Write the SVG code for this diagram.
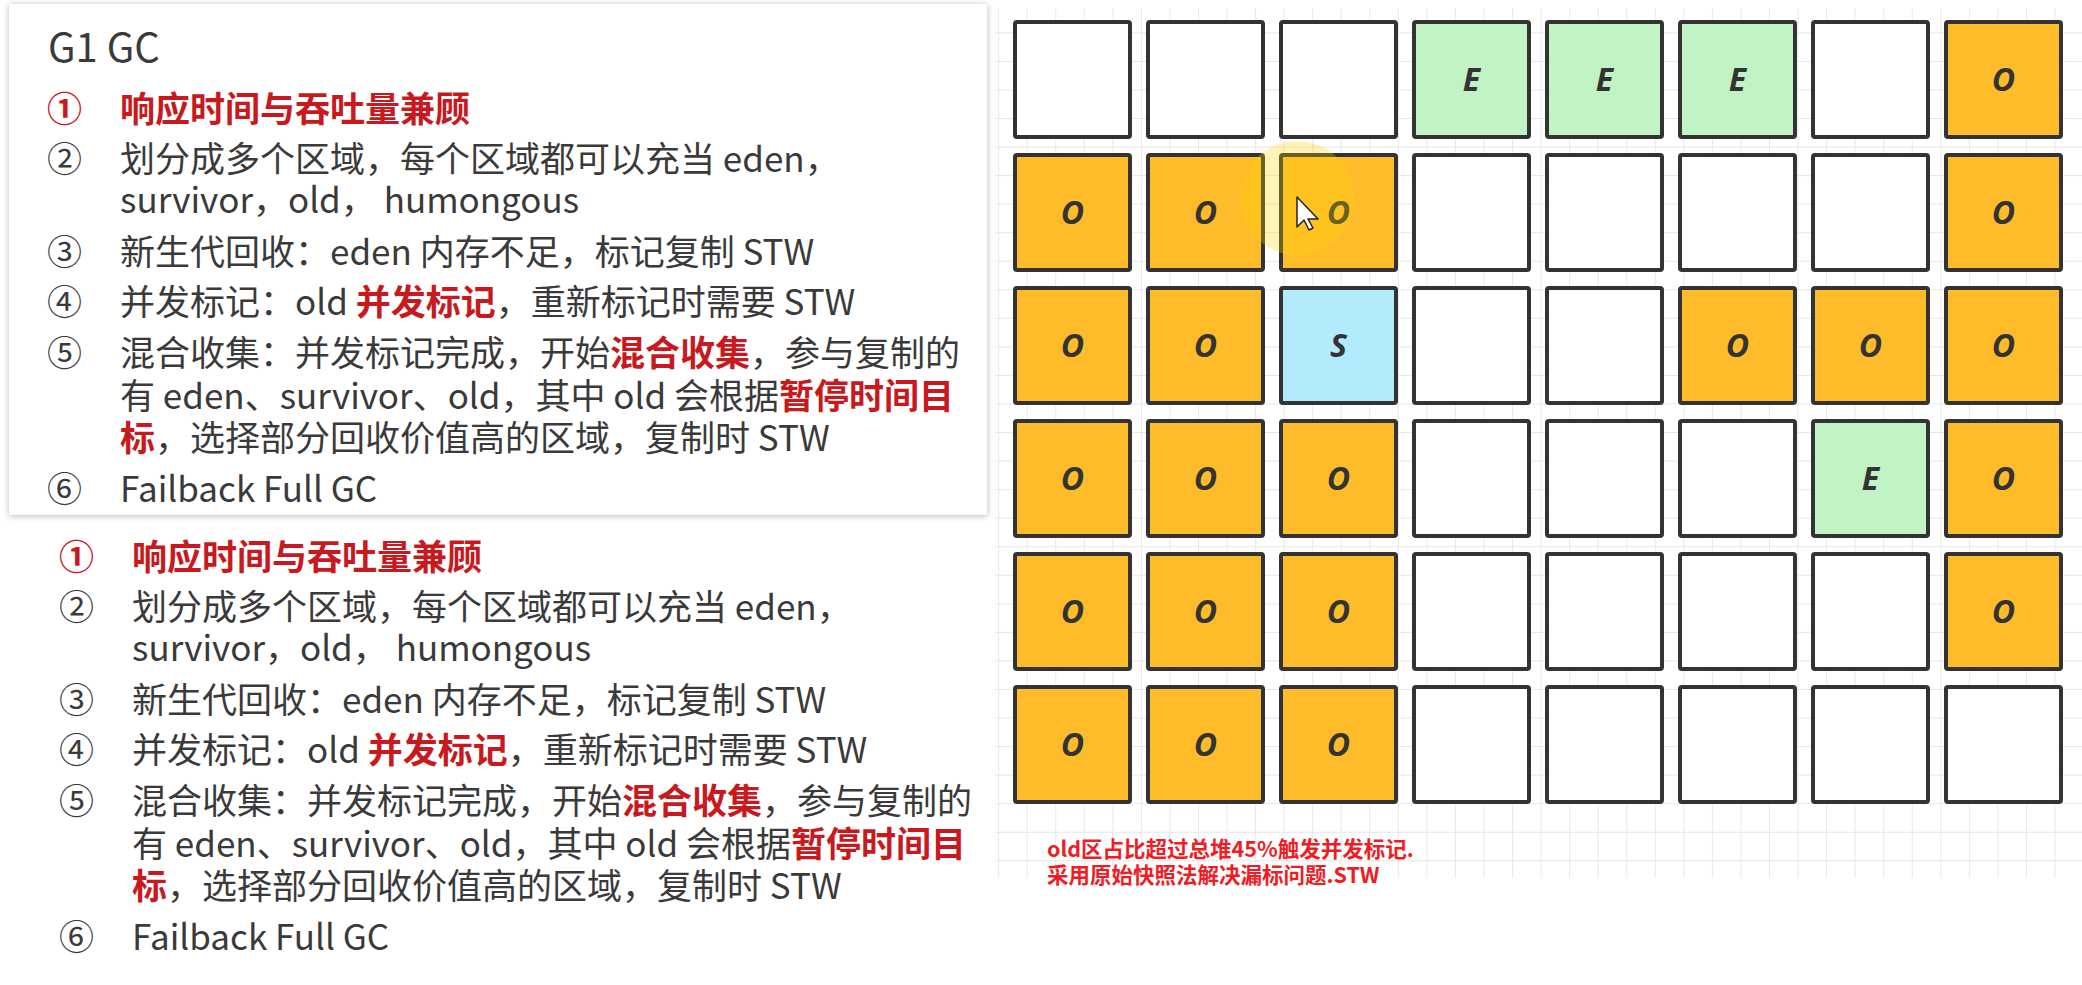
<svg xmlns="http://www.w3.org/2000/svg" width="2082" height="985" viewBox="0 0 2082 985">
<defs>
<style>
.t{font-family:"Noto Sans CJK SC","Noto Sans",sans-serif;font-size:35px;fill:#3a3a3a}
.ttl{font-family:"Noto Sans CJK SC","Noto Sans",sans-serif;font-size:40px;fill:#3a3a3a}
.r{fill:#c8191e;font-weight:bold}
.note{font-family:"Noto Sans CJK SC","Noto Sans",sans-serif;font-size:21.5px;font-weight:bold;fill:#ee1d25}
.cell{stroke:#333;stroke-width:4}
.W{fill:#ffffff}.O{fill:#febc2b}.E{fill:#c1f3c5}.S{fill:#b2ebfb}
.lbl{font-family:"Open Sans","Noto Sans",sans-serif;font-size:32px;font-weight:bold;font-style:italic;fill:#333;text-anchor:middle}
</style>
<filter id="shadow" x="-5%" y="-5%" width="110%" height="110%">
<feDropShadow dx="0" dy="1" stdDeviation="3" flood-color="#000" flood-opacity="0.28"/>
</filter>
<pattern id="grid" x="1026.7" y="118" width="28.55" height="28.55" patternUnits="userSpaceOnUse">
<path d="M0 0H28.55M0 0V28.55" fill="none" stroke="#e6e6e6" stroke-width="1.8"/>
</pattern>
</defs>
<rect width="2082" height="985" fill="#ffffff"/>
<rect x="995" y="8" width="1087" height="870" fill="url(#grid)"/>

<g id="card">
<rect x="9" y="4" width="978" height="511" fill="#ffffff" filter="url(#shadow)"/>
<text class="ttl" x="48" y="62">G1 GC</text>
<text class="t" x="47" y="122"><tspan class="r">①</tspan><tspan class="r" x="120">响应时间与吞吐量兼顾</tspan></text>
<text class="t" x="47" y="172">②<tspan x="120">划分成多个区域，每个区域都可以充当 eden，</tspan></text>
<text class="t" x="120" y="213">survivor，old， humongous</text>
<text class="t" x="47" y="265">③<tspan x="120">新生代回收：eden 内存不足，标记复制 STW</tspan></text>
<text class="t" x="47" y="315">④<tspan x="120">并发标记：old </tspan><tspan class="r">并发标记</tspan><tspan>，重新标记时需要 STW</tspan></text>
<text class="t" x="47" y="366">⑤<tspan x="120">混合收集：并发标记完成，开始</tspan><tspan class="r">混合收集</tspan><tspan>，参与复制的</tspan></text>
<text class="t" x="120" y="409">有 eden、survivor、old，其中 old 会根据<tspan class="r">暂停时间目</tspan></text>
<text class="t" x="120" y="451"><tspan class="r">标</tspan>，选择部分回收价值高的区域，复制时 STW</text>
<text class="t" x="47" y="502">⑥<tspan x="120">Failback Full GC</tspan></text>
</g>

<g id="notes-copy" transform="translate(12,448)">
<text class="t" x="47" y="122"><tspan class="r">①</tspan><tspan class="r" x="120">响应时间与吞吐量兼顾</tspan></text>
<text class="t" x="47" y="172">②<tspan x="120">划分成多个区域，每个区域都可以充当 eden，</tspan></text>
<text class="t" x="120" y="213">survivor，old， humongous</text>
<text class="t" x="47" y="265">③<tspan x="120">新生代回收：eden 内存不足，标记复制 STW</tspan></text>
<text class="t" x="47" y="315">④<tspan x="120">并发标记：old </tspan><tspan class="r">并发标记</tspan><tspan>，重新标记时需要 STW</tspan></text>
<text class="t" x="47" y="366">⑤<tspan x="120">混合收集：并发标记完成，开始</tspan><tspan class="r">混合收集</tspan><tspan>，参与复制的</tspan></text>
<text class="t" x="120" y="409">有 eden、survivor、old，其中 old 会根据<tspan class="r">暂停时间目</tspan></text>
<text class="t" x="120" y="451"><tspan class="r">标</tspan>，选择部分回收价值高的区域，复制时 STW</text>
<text class="t" x="47" y="502">⑥<tspan x="120">Failback Full GC</tspan></text>
</g>

<g id="regions">
<g id="r1">
<rect class="cell W" x="1015" y="22" width="115" height="115" rx="2"/>
<rect class="cell W" x="1148" y="22" width="115" height="115" rx="2"/>
<rect class="cell W" x="1281" y="22" width="115" height="115" rx="2"/>
<rect class="cell E" x="1414" y="22" width="115" height="115" rx="2"/><text class="lbl" x="1471.5" y="91">E</text>
<rect class="cell E" x="1547" y="22" width="115" height="115" rx="2"/><text class="lbl" x="1604.5" y="91">E</text>
<rect class="cell E" x="1680" y="22" width="115" height="115" rx="2"/><text class="lbl" x="1737.5" y="91">E</text>
<rect class="cell W" x="1813" y="22" width="115" height="115" rx="2"/>
<rect class="cell O" x="1946" y="22" width="115" height="115" rx="2"/><text class="lbl" x="2003.5" y="91">O</text>
</g>
<g id="r2">
<rect class="cell O" x="1015" y="155" width="115" height="115" rx="2"/><text class="lbl" x="1072.5" y="224">O</text>
<rect class="cell O" x="1148" y="155" width="115" height="115" rx="2"/><text class="lbl" x="1205.5" y="224">O</text>
<rect class="cell O" x="1281" y="155" width="115" height="115" rx="2"/><text class="lbl" x="1338.5" y="224">O</text>
<rect class="cell W" x="1414" y="155" width="115" height="115" rx="2"/>
<rect class="cell W" x="1547" y="155" width="115" height="115" rx="2"/>
<rect class="cell W" x="1680" y="155" width="115" height="115" rx="2"/>
<rect class="cell W" x="1813" y="155" width="115" height="115" rx="2"/>
<rect class="cell O" x="1946" y="155" width="115" height="115" rx="2"/><text class="lbl" x="2003.5" y="224">O</text>
</g>
<g id="r3">
<rect class="cell O" x="1015" y="288" width="115" height="115" rx="2"/><text class="lbl" x="1072.5" y="357">O</text>
<rect class="cell O" x="1148" y="288" width="115" height="115" rx="2"/><text class="lbl" x="1205.5" y="357">O</text>
<rect class="cell S" x="1281" y="288" width="115" height="115" rx="2"/><text class="lbl" x="1338.5" y="357">S</text>
<rect class="cell W" x="1414" y="288" width="115" height="115" rx="2"/>
<rect class="cell W" x="1547" y="288" width="115" height="115" rx="2"/>
<rect class="cell O" x="1680" y="288" width="115" height="115" rx="2"/><text class="lbl" x="1737.5" y="357">O</text>
<rect class="cell O" x="1813" y="288" width="115" height="115" rx="2"/><text class="lbl" x="1870.5" y="357">O</text>
<rect class="cell O" x="1946" y="288" width="115" height="115" rx="2"/><text class="lbl" x="2003.5" y="357">O</text>
</g>
<g id="r4">
<rect class="cell O" x="1015" y="421" width="115" height="115" rx="2"/><text class="lbl" x="1072.5" y="490">O</text>
<rect class="cell O" x="1148" y="421" width="115" height="115" rx="2"/><text class="lbl" x="1205.5" y="490">O</text>
<rect class="cell O" x="1281" y="421" width="115" height="115" rx="2"/><text class="lbl" x="1338.5" y="490">O</text>
<rect class="cell W" x="1414" y="421" width="115" height="115" rx="2"/>
<rect class="cell W" x="1547" y="421" width="115" height="115" rx="2"/>
<rect class="cell W" x="1680" y="421" width="115" height="115" rx="2"/>
<rect class="cell E" x="1813" y="421" width="115" height="115" rx="2"/><text class="lbl" x="1870.5" y="490">E</text>
<rect class="cell O" x="1946" y="421" width="115" height="115" rx="2"/><text class="lbl" x="2003.5" y="490">O</text>
</g>
<g id="r5">
<rect class="cell O" x="1015" y="554" width="115" height="115" rx="2"/><text class="lbl" x="1072.5" y="623">O</text>
<rect class="cell O" x="1148" y="554" width="115" height="115" rx="2"/><text class="lbl" x="1205.5" y="623">O</text>
<rect class="cell O" x="1281" y="554" width="115" height="115" rx="2"/><text class="lbl" x="1338.5" y="623">O</text>
<rect class="cell W" x="1414" y="554" width="115" height="115" rx="2"/>
<rect class="cell W" x="1547" y="554" width="115" height="115" rx="2"/>
<rect class="cell W" x="1680" y="554" width="115" height="115" rx="2"/>
<rect class="cell W" x="1813" y="554" width="115" height="115" rx="2"/>
<rect class="cell O" x="1946" y="554" width="115" height="115" rx="2"/><text class="lbl" x="2003.5" y="623">O</text>
</g>
<g id="r6">
<rect class="cell O" x="1015" y="687" width="115" height="115" rx="2"/><text class="lbl" x="1072.5" y="756">O</text>
<rect class="cell O" x="1148" y="687" width="115" height="115" rx="2"/><text class="lbl" x="1205.5" y="756">O</text>
<rect class="cell O" x="1281" y="687" width="115" height="115" rx="2"/><text class="lbl" x="1338.5" y="756">O</text>
<rect class="cell W" x="1414" y="687" width="115" height="115" rx="2"/>
<rect class="cell W" x="1547" y="687" width="115" height="115" rx="2"/>
<rect class="cell W" x="1680" y="687" width="115" height="115" rx="2"/>
<rect class="cell W" x="1813" y="687" width="115" height="115" rx="2"/>
<rect class="cell W" x="1946" y="687" width="115" height="115" rx="2"/>
</g>
</g>

<g id="cursor">
<circle cx="1297" cy="198" r="57" fill="#ffd600" opacity="0.28"/>
<polygon points="1297,197 1297,227 1304,220 1309,230 1313,228 1308,219 1318,219" fill="#ffffff" stroke="#222" stroke-width="1.5" stroke-linejoin="round"/>
</g>

<g id="note">
<text class="note" x="1047" y="857">old区占比超过总堆45%触发并发标记.</text>
<text class="note" x="1047" y="883">采用原始快照法解决漏标问题.STW</text>
</g>

<g id="connectors"/>
</svg>
